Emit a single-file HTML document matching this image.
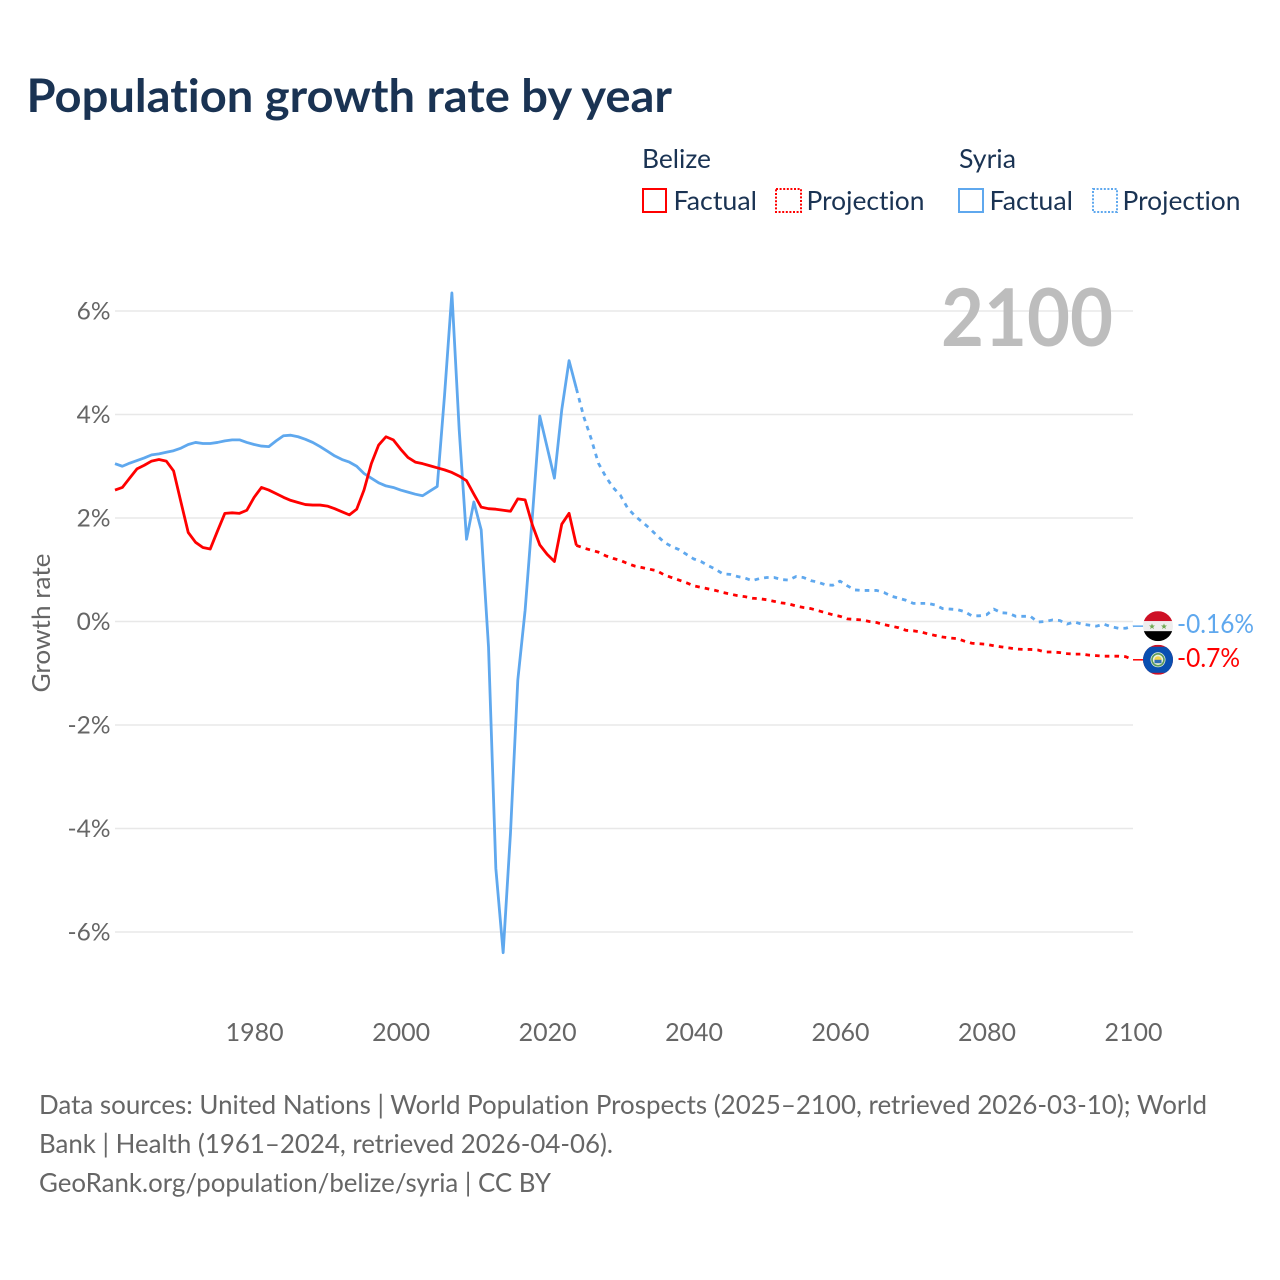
<!DOCTYPE html>
<html lang="en">
<head>
<meta charset="utf-8">
<title>Population growth rate by year</title>
<style>
  html, body { margin: 0; padding: 0; background: #ffffff; }
  #chart { display: block; width: 1280px; height: 1280px; }
  text { font-family: "Lato", "Carlito", "Liberation Sans", sans-serif; font-variant-ligatures: none; }
</style>
</head>
<body>
<svg id="chart" xmlns="http://www.w3.org/2000/svg" width="1280" height="1280" viewBox="0 0 1280 1280">
  <text x="26.5" y="112" font-size="46" font-weight="700" fill="#1a3353" textLength="645.5" lengthAdjust="spacingAndGlyphs">Population growth rate by year</text>

  <g>
    <text x="642" y="168" font-size="26" fill="#1a3353" textLength="69" lengthAdjust="spacingAndGlyphs">Belize</text>
    <text x="959" y="168" font-size="26" fill="#1a3353" textLength="57" lengthAdjust="spacingAndGlyphs">Syria</text>
    <g>
      <rect x="643" y="189" width="23" height="23" fill="none" stroke="#ff0000" stroke-width="2"/>
      <text x="673.5" y="210" font-size="26" fill="#1a3353" textLength="83.5" lengthAdjust="spacingAndGlyphs">Factual</text>
    </g>
    <g>
      <rect x="776" y="189" width="25" height="23" fill="none" stroke="#ff0000" stroke-width="2" stroke-dasharray="2 1.6"/>
      <text x="806.5" y="210" font-size="26" fill="#1a3353" textLength="118" lengthAdjust="spacingAndGlyphs">Projection</text>
    </g>
    <g>
      <rect x="959" y="189" width="24" height="23" fill="none" stroke="#5fa8ee" stroke-width="2"/>
      <text x="989.5" y="210" font-size="26" fill="#1a3353" textLength="83.5" lengthAdjust="spacingAndGlyphs">Factual</text>
    </g>
    <g>
      <rect x="1093" y="189" width="24" height="23" fill="none" stroke="#5fa8ee" stroke-width="2" stroke-dasharray="2 1.6"/>
      <text x="1122.5" y="210" font-size="26" fill="#1a3353" textLength="118" lengthAdjust="spacingAndGlyphs">Projection</text>
    </g>
  </g>

  <g id="grid"></g>
  <g id="y-ticks"></g>
  <g id="x-ticks"></g>

  <text transform="translate(50 623) rotate(-90)" text-anchor="middle" font-size="25" fill="#666666" textLength="139" lengthAdjust="spacingAndGlyphs">Growth rate</text>

  <text x="941" y="346" font-size="80" font-weight="700" fill="#bdbdbd" textLength="172" lengthAdjust="spacingAndGlyphs">2100</text>

  <g id="series"></g>

  <g id="syria-end">
    <clipPath id="syria-clip"><circle cx="1158" cy="0" r="15"/></clipPath>
    <g clip-path="url(#syria-clip)">
      <rect x="1143" y="-15" width="30" height="10" fill="#ce1126"/>
      <rect x="1143" y="-5" width="30" height="10" fill="#eeeeee"/>
      <rect x="1143" y="5" width="30" height="10" fill="#000000"/>
      <polygon points="1152,-2.8 1152.8,-0.6 1155,-0.6 1153.2,0.8 1153.9,3 1152,1.6 1150.1,3 1150.8,0.8 1149,-0.6 1151.2,-0.6" fill="#6fa84f"/>
      <polygon points="1164,-2.8 1164.8,-0.6 1167,-0.6 1165.2,0.8 1165.9,3 1164,1.6 1162.1,3 1162.8,0.8 1161,-0.6 1163.2,-0.6" fill="#6fa84f"/>
    </g>
  </g>
  <g id="belize-end">
    <clipPath id="belize-clip"><circle cx="1158" cy="0" r="15"/></clipPath>
    <g clip-path="url(#belize-clip)">
      <rect x="1143" y="-15" width="30" height="30" fill="#ce1126"/>
      <rect x="1143" y="-13" width="30" height="26" fill="#0a4fb0"/>
      <circle cx="1158" cy="0" r="7.5" fill="#e8efe0"/>
      <circle cx="1158" cy="0" r="6" fill="none" stroke="#5c9a5c" stroke-width="1.6"/>
      <circle cx="1158" cy="0" r="3.6" fill="#f2d24b"/>
      <rect x="1154.5" y="0" width="7" height="3.4" fill="#2f6fb5"/>
    </g>
  </g>

  <g>
    <text x="39" y="1114" font-size="26" fill="#666666" textLength="1168" lengthAdjust="spacingAndGlyphs">Data sources: United Nations | World Population Prospects (2025–2100, retrieved 2026-03-10); World</text>
    <text x="39" y="1153" font-size="26" fill="#666666" textLength="574" lengthAdjust="spacingAndGlyphs">Bank | Health (1961–2024, retrieved 2026-04-06).</text>
    <text x="39" y="1192" font-size="26" fill="#666666" textLength="512" lengthAdjust="spacingAndGlyphs">GeoRank.org/population/belize/syria | CC BY</text>
  </g>
</svg>

<script>
const factualStartYear = 1961;
const projectionStartYear = 2024;
const xTickYears = [1980, 2000, 2020, 2040, 2060, 2080, 2100];
const yTickValues = [6, 4, 2, 0, -2, -4, -6];
const belizeEndLabel = "-0.7%";
const syriaEndLabel = "-0.16%";

// Belize factual, 1961-2024
const belizeFactual = [
  2.54, 2.59, 2.77, 2.95, 3.02, 3.10, 3.13, 3.10, 2.91, 2.31,
  1.72, 1.53, 1.43, 1.40, 1.75, 2.09, 2.10, 2.09, 2.15, 2.40,
  2.59, 2.54, 2.47, 2.40, 2.34, 2.30, 2.26, 2.25, 2.25, 2.23,
  2.18, 2.12, 2.06, 2.17, 2.54, 3.05, 3.41, 3.57, 3.51, 3.33,
  3.17, 3.08, 3.05, 3.01, 2.97, 2.93, 2.88, 2.81, 2.72, 2.46,
  2.21, 2.18, 2.17, 2.15, 2.13, 2.37, 2.35, 1.86, 1.48, 1.30,
  1.16, 1.88, 2.09, 1.47
];
// Belize projection, 2024-2100
const belizeProjection = [
  1.47, 1.42, 1.38, 1.34, 1.27, 1.22, 1.18, 1.12, 1.07, 1.04,
  1.01, 0.98, 0.90, 0.85, 0.80, 0.75, 0.69, 0.66, 0.63, 0.60,
  0.56, 0.53, 0.50, 0.48, 0.45, 0.44, 0.42, 0.39, 0.36, 0.34,
  0.30, 0.27, 0.25, 0.21, 0.17, 0.13, 0.10, 0.05, 0.04, 0.03,
  0.00, -0.02, -0.06, -0.09, -0.12, -0.17, -0.18, -0.20, -0.24, -0.27,
  -0.30, -0.32, -0.33, -0.38, -0.42, -0.43, -0.44, -0.47, -0.49, -0.51,
  -0.53, -0.54, -0.54, -0.55, -0.59, -0.59, -0.60, -0.62, -0.63, -0.63,
  -0.65, -0.66, -0.67, -0.67, -0.67, -0.68, -0.74
];
// Syria factual, 1961-2024
const syriaFactual = [
  3.05, 3.00, 3.06, 3.11, 3.16, 3.22, 3.24, 3.27, 3.30, 3.35,
  3.42, 3.46, 3.44, 3.44, 3.46, 3.49, 3.51, 3.51, 3.46, 3.42,
  3.39, 3.38, 3.49, 3.59, 3.60, 3.57, 3.52, 3.46, 3.38, 3.29,
  3.20, 3.13, 3.08, 3.00, 2.86, 2.77, 2.68, 2.62, 2.59, 2.54,
  2.50, 2.46, 2.43, 2.52, 2.61, 4.38, 6.35, 3.70, 1.59, 2.31,
  1.77, -0.49, -4.77, -6.40, -4.09, -1.13, 0.22, 2.05, 3.97, 3.37,
  2.77, 4.09, 5.04, 4.50
];
// Syria projection, 2024-2100
const syriaProjection = [
  4.50, 3.96, 3.54, 3.06, 2.80, 2.59, 2.44, 2.19, 2.04, 1.92,
  1.80, 1.66, 1.53, 1.45, 1.39, 1.30, 1.21, 1.16, 1.08, 1.01,
  0.92, 0.91, 0.87, 0.84, 0.79, 0.83, 0.85, 0.85, 0.81, 0.80,
  0.87, 0.85, 0.79, 0.76, 0.71, 0.70, 0.78, 0.69, 0.61, 0.60,
  0.60, 0.60, 0.56, 0.49, 0.45, 0.41, 0.35, 0.35, 0.35, 0.32,
  0.25, 0.24, 0.23, 0.19, 0.11, 0.11, 0.13, 0.24, 0.17, 0.16,
  0.10, 0.10, 0.10, -0.01, 0.00, 0.03, 0.02, -0.05, -0.01, -0.05,
  -0.07, -0.09, -0.05, -0.10, -0.13, -0.13, -0.09
];

const SVG_NS = "http://www.w3.org/2000/svg";
const plotLeft = 115, plotRight = 1133;
function xScale(year) { return plotLeft + (year - 1961) * (plotRight - plotLeft) / (2100 - 1961); }
function yScale(value) { return 621.5 - value * 51.75; }
function make(tag, attrs) {
  const el = document.createElementNS(SVG_NS, tag);
  for (const k in attrs) el.setAttribute(k, attrs[k]);
  return el;
}
function linePath(values, startYear) {
  return values.map(function (v, i) {
    return (i ? "L" : "M") + xScale(startYear + i).toFixed(2) + " " + yScale(v).toFixed(2);
  }).join(" ");
}

const gridGroup = document.getElementById("grid");
const yTickGroup = document.getElementById("y-ticks");
yTickValues.forEach(function (v) {
  const line = make("line", { x1: plotLeft, x2: plotRight, y1: yScale(v), y2: yScale(v), stroke: "#e8e8e8", "stroke-width": 1.5 });
  
  
  gridGroup.appendChild(line);
  const label = make("text", { x: 110.5, y: yScale(v) + 8.5, "text-anchor": "end", "font-size": 24.5, fill: "#666666" });
  
  
  label.textContent = v + "%";
  yTickGroup.appendChild(label);
});

const xTickGroup = document.getElementById("x-ticks");
xTickYears.forEach(function (yr) {
  const label = make("text", { x: xScale(yr) + 0.5, y: 1041, "text-anchor": "middle", "font-size": 25, fill: "#666666", textLength: 58, lengthAdjust: "spacingAndGlyphs" });
  
  
  label.textContent = yr;
  xTickGroup.appendChild(label);
});

const seriesGroup = document.getElementById("series");
function addLine(values, startYear, color, dashed, name) {
  const attrs = { d: linePath(values, startYear), fill: "none", stroke: color, "stroke-width": 2.8, "stroke-linejoin": "round" };
  if (dashed) attrs["stroke-dasharray"] = "4.6 5.1";
  const path = make("path", attrs);
  
  
  seriesGroup.appendChild(path);
}
addLine(syriaFactual, factualStartYear, "#5fa8ee", false, "syria-factual-line");
addLine(syriaProjection, projectionStartYear, "#5fa8ee", true, "syria-projection-line");
addLine(belizeFactual, factualStartYear, "#ff0000", false, "belize-factual-line");
addLine(belizeProjection, projectionStartYear, "#ff0000", true, "belize-projection-line");

function placeEnd(groupId, values, color, text, labelName, connectorName, labelOffset, labelWidth) {
  const endY = yScale(values[values.length - 1]);
  const group = document.getElementById(groupId);
  const connector = make("line", { x1: plotRight, x2: 1143, y1: endY, y2: endY, stroke: color, "stroke-width": 1.5 });
  
  
  seriesGroup.appendChild(connector);
  group.setAttribute("transform", "translate(0 " + endY.toFixed(2) + ")");
  const label = make("text", { x: 1177, y: labelOffset, "font-size": 26, fill: color, textLength: labelWidth, lengthAdjust: "spacingAndGlyphs" });
  
  
  label.textContent = text;
  group.appendChild(label);
}
placeEnd("syria-end", syriaProjection, "#5fa8ee", syriaEndLabel, "syria-end-value", "syria-connector", 7, 77);
placeEnd("belize-end", belizeProjection, "#ff0000", belizeEndLabel, "belize-end-value", "belize-connector", 7, 63);
</script>
</body>
</html>
